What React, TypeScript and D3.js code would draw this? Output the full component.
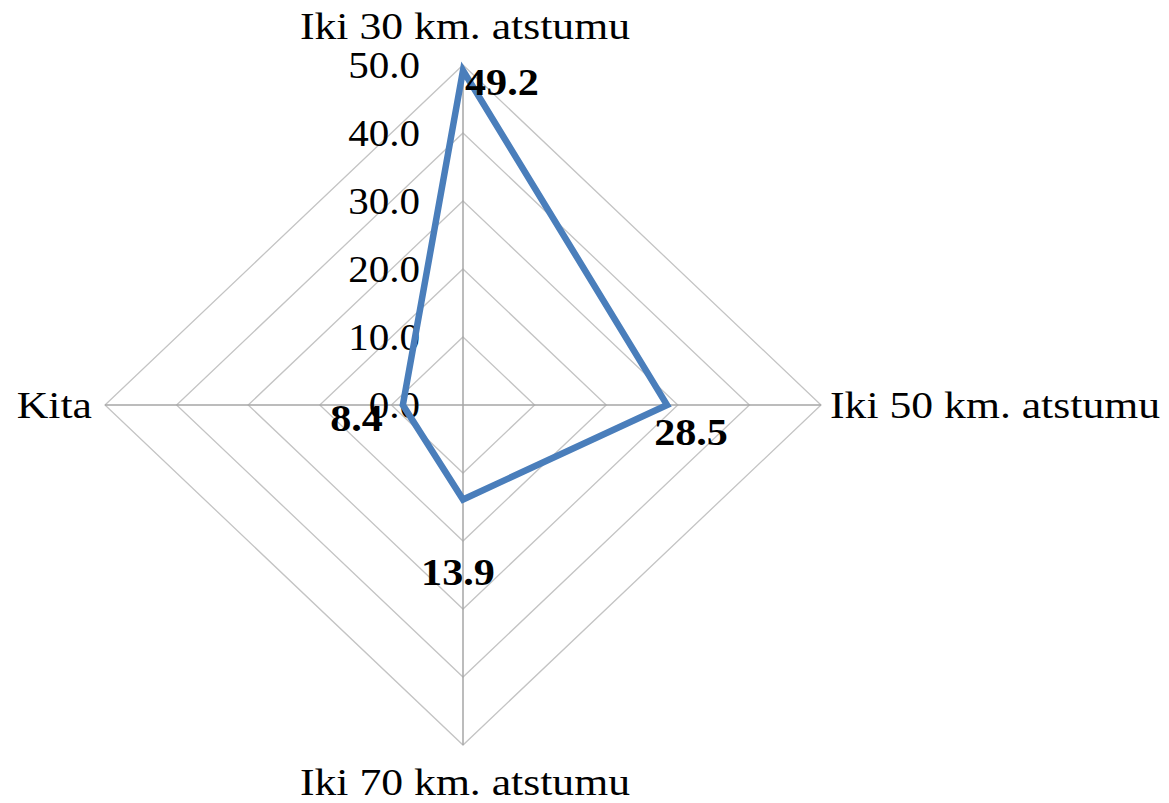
import { useEffect, useRef } from "react";
import * as d3 from "d3";

const categories = ["Iki 30 km. atstumu", "Iki 50 km. atstumu", "Iki 70 km. atstumu", "Kita"];
const values = [49.2, 28.5, 13.9, 8.4];
const ticks = [0, 10, 20, 30, 40, 50];

const W = 1169;
const H = 803;
const cx = 463;
const cy = 405;

export default function App() {
  const ref = useRef<SVGSVGElement>(null);

  useEffect(() => {
    const svg = d3.select(ref.current);
    svg.selectAll("*").remove();

    // the reference is a bit stretched horizontally
    const rx = d3.scaleLinear().domain([0, 50]).range([0, 358]);
    const ry = d3.scaleLinear().domain([0, 50]).range([0, 340]);
    const angle = (i: number) => (i / categories.length) * 2 * Math.PI;
    const pt = (i: number, v: number): [number, number] => [
      cx + Math.sin(angle(i)) * rx(v),
      cy - Math.cos(angle(i)) * ry(v),
    ];

    const font = "'Liberation Serif', 'Times New Roman', serif";
    const stretch = (x: number, y: number, s = 1.12) => `translate(${x},${y}) scale(${s},1)`;

    // rings
    svg
      .append("g")
      .selectAll("path")
      .data(ticks.slice(1))
      .join("path")
      .attr("d", (t) => d3.line()(categories.map((_, i) => pt(i, t))) + "Z")
      .attr("fill", "none")
      .attr("stroke", "#c4c4c4")
      .attr("stroke-width", 1.3);

    // spokes
    svg
      .append("g")
      .selectAll("line")
      .data(categories)
      .join("line")
      .attr("x1", cx)
      .attr("y1", cy)
      .attr("x2", (_, i) => pt(i, 50)[0])
      .attr("y2", (_, i) => pt(i, 50)[1])
      .attr("stroke", "#a6a6a6")
      .attr("stroke-width", 1.5);

    // tick labels
    svg
      .append("g")
      .selectAll("text")
      .data(ticks)
      .join("text")
      .attr("transform", (t) => stretch(cx - 43, cy - ry(t), 1.08))
      .attr("dy", "0.35em")
      .attr("text-anchor", "end")
      .attr("font-family", font)
      .attr("font-size", 38)
      .attr("fill", "#000")
      .text((t) => d3.format(".1f")(t));

    // series line
    svg
      .append("path")
      .attr("d", d3.line()(values.map((v, i) => pt(i, v))) + "Z")
      .attr("fill", "none")
      .attr("stroke", "#4a7ebb")
      .attr("stroke-width", 6.5)
      .attr("stroke-linejoin", "miter");

    // data labels
    const labelOffset: [number, number, string][] = [
      [2, 25, "start"],
      [24, 40, "middle"],
      [-5, 85, "middle"],
      [-20, 26, "end"],
    ];
    svg
      .append("g")
      .selectAll("text")
      .data(values)
      .join("text")
      .attr("transform", (v, i) =>
        stretch(pt(i, v)[0] + labelOffset[i][0], pt(i, v)[1] + labelOffset[i][1], 1.11),
      )
      .attr("text-anchor", (_, i) => labelOffset[i][2])
      .attr("font-family", font)
      .attr("font-size", 38)
      .attr("font-weight", "bold")
      .attr("fill", "#000")
      .text((v) => d3.format(".1f")(v));

    // category labels
    const catPos: [number, number, string][] = [
      [cx + 2, 39, "middle"],
      [830, 418, "start"],
      [cx + 2, 795, "middle"],
      [92, 418, "end"],
    ];
    svg
      .append("g")
      .selectAll("text")
      .data(categories)
      .join("text")
      .attr("transform", (_, i) => stretch(catPos[i][0], catPos[i][1], 1.15))
      .attr("text-anchor", (_, i) => catPos[i][2])
      .attr("font-family", font)
      .attr("font-size", 38)
      .attr("fill", "#000")
      .text((d) => d);
  }, []);

  return (
    <div style={{ position: "absolute", left: 0, top: 0, background: "#fff" }}>
      <svg ref={ref} width={W} height={H} style={{ display: "block" }} />
    </div>
  );
}
